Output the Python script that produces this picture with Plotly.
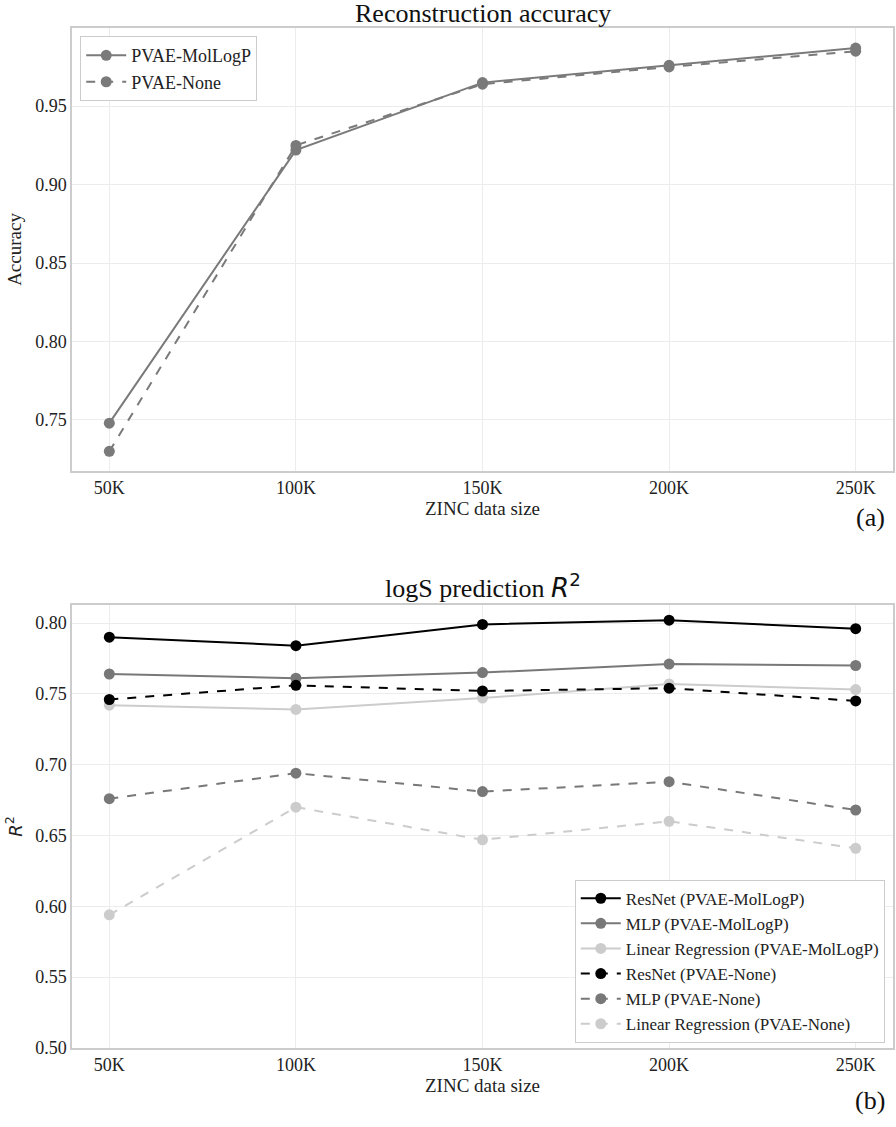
import plotly.graph_objects as go

sizes = [50, 100, 150, 200, 250]
size_labels = ["50K", "100K", "150K", "200K", "250K"]

acc_mollogp = [0.748, 0.922, 0.965, 0.976, 0.987]
acc_none = [0.730, 0.925, 0.964, 0.975, 0.985]

resnet_mollogp = [0.790, 0.784, 0.799, 0.802, 0.796]
mlp_mollogp = [0.764, 0.761, 0.765, 0.771, 0.770]
lr_mollogp = [0.742, 0.739, 0.747, 0.757, 0.753]
resnet_none = [0.746, 0.756, 0.752, 0.754, 0.745]
mlp_none = [0.676, 0.694, 0.681, 0.688, 0.668]
lr_none = [0.594, 0.670, 0.647, 0.660, 0.641]

FONT = "Liberation Serif, Times New Roman, serif"
fig = go.Figure()

def add(x, y, name, color, dash, xa, ya, legend):
    fig.add_trace(go.Scatter(
        x=x, y=y, name=name, mode="lines+markers",
        line=dict(color=color, width=2, dash=dash),
        marker=dict(color=color, size=11),
        xaxis=xa, yaxis=ya, legend=legend))

G = "#7a7a7a"
add(sizes, acc_mollogp, "PVAE-MolLogP", G, "solid", "x", "y", "legend")
add(sizes, acc_none, "PVAE-None", G, "dash", "x", "y", "legend")

add(sizes, resnet_mollogp, "ResNet (PVAE-MolLogP)", "#000000", "solid", "x2", "y2", "legend2")
add(sizes, mlp_mollogp, "MLP (PVAE-MolLogP)", "#787878", "solid", "x2", "y2", "legend2")
add(sizes, lr_mollogp, "Linear Regression (PVAE-MolLogP)", "#cccccc", "solid", "x2", "y2", "legend2")
add(sizes, resnet_none, "ResNet (PVAE-None)", "#000000", "dash", "x2", "y2", "legend2")
add(sizes, mlp_none, "MLP (PVAE-None)", "#787878", "dash", "x2", "y2", "legend2")
add(sizes, lr_none, "Linear Regression (PVAE-None)", "#cccccc", "dash", "x2", "y2", "legend2")

axcommon = dict(showline=True, linecolor="#cccccc", linewidth=1.5, mirror=True,
                showgrid=True, gridcolor="#ececec", gridwidth=1, zeroline=False,
                ticks="", tickfont=dict(family=FONT, size=18, color="#222"))

fig.update_layout(
    width=896, height=1127,
    margin=dict(l=72, r=1, t=28, b=79),
    paper_bgcolor="white", plot_bgcolor="white",
    font=dict(family=FONT, color="#222"),
    xaxis=dict(domain=[0, 1], anchor="y", range=[40, 260], tickvals=sizes, ticktext=size_labels,
               title=dict(text="ZINC data size", font=dict(family=FONT, size=19), standoff=4), **axcommon),
    yaxis=dict(domain=[0.5657, 1.0], anchor="x", range=[0.7175, 0.9998],
               tickvals=[0.75, 0.80, 0.85, 0.90, 0.95], ticktext=["0.75", "0.80", "0.85", "0.90", "0.95"],
               title=dict(text="Accuracy", font=dict(family=FONT, size=19), standoff=8), **axcommon),
    xaxis2=dict(domain=[0, 1], anchor="y2", range=[40, 260], tickvals=sizes, ticktext=size_labels,
                title=dict(text="ZINC data size", font=dict(family=FONT, size=19), standoff=4), **axcommon),
    yaxis2=dict(domain=[0, 0.4343], anchor="x2", range=[0.5, 0.8127],
                tickvals=[0.50, 0.55, 0.60, 0.65, 0.70, 0.75, 0.80],
                ticktext=["0.50", "0.55", "0.60", "0.65", "0.70", "0.75", "0.80"],
                title=dict(text="<i>R</i><sup>2</sup>", font=dict(family="DejaVu Sans", size=18), standoff=8),
                **axcommon),
    legend=dict(x=0.01, y=0.992, xref="paper", yref="paper", xanchor="left", yanchor="top",
                bordercolor="#cccccc", borderwidth=1, bgcolor="white",
                font=dict(family=FONT, size=18, color="#222"), tracegroupgap=0, itemwidth=40),
    legend2=dict(x=0.99, y=0.165, xanchor="right", yanchor="top",
                 bordercolor="#cccccc", borderwidth=1, bgcolor="white",
                 font=dict(family=FONT, size=17, color="#222"), tracegroupgap=0, itemwidth=40),
    showlegend=True,
)

fig.add_annotation(text="Reconstruction accuracy", x=0.5, y=1.0, xref="paper", yref="paper",
                   xanchor="center", yanchor="bottom", yshift=-2, showarrow=False,
                   font=dict(family=FONT, size=26, color="#111"))
fig.add_annotation(text="logS prediction <span style='font-family:DejaVu Sans'><i>R</i><sup>2</sup></span>",
                   x=0.5, y=0.4343, xref="paper", yref="paper",
                   xanchor="center", yanchor="bottom", yshift=0, showarrow=False,
                   font=dict(family=FONT, size=26, color="#111"))
fig.add_annotation(text="(a)", x=1.0, y=0.5657, xref="paper", yref="paper", xanchor="right",
                   yanchor="top", yshift=-30, xshift=-6, showarrow=False,
                   font=dict(family=FONT, size=26, color="#111"))
fig.add_annotation(text="(b)", x=1.0, y=0.0, xref="paper", yref="paper", xanchor="right",
                   yanchor="top", yshift=-36, xshift=-6, showarrow=False,
                   font=dict(family=FONT, size=26, color="#111"))

fig.write_html("out.html", config={"displayModeBar": False},
               post_script="document.body.style.margin='0';document.body.style.overflow='hidden';")
